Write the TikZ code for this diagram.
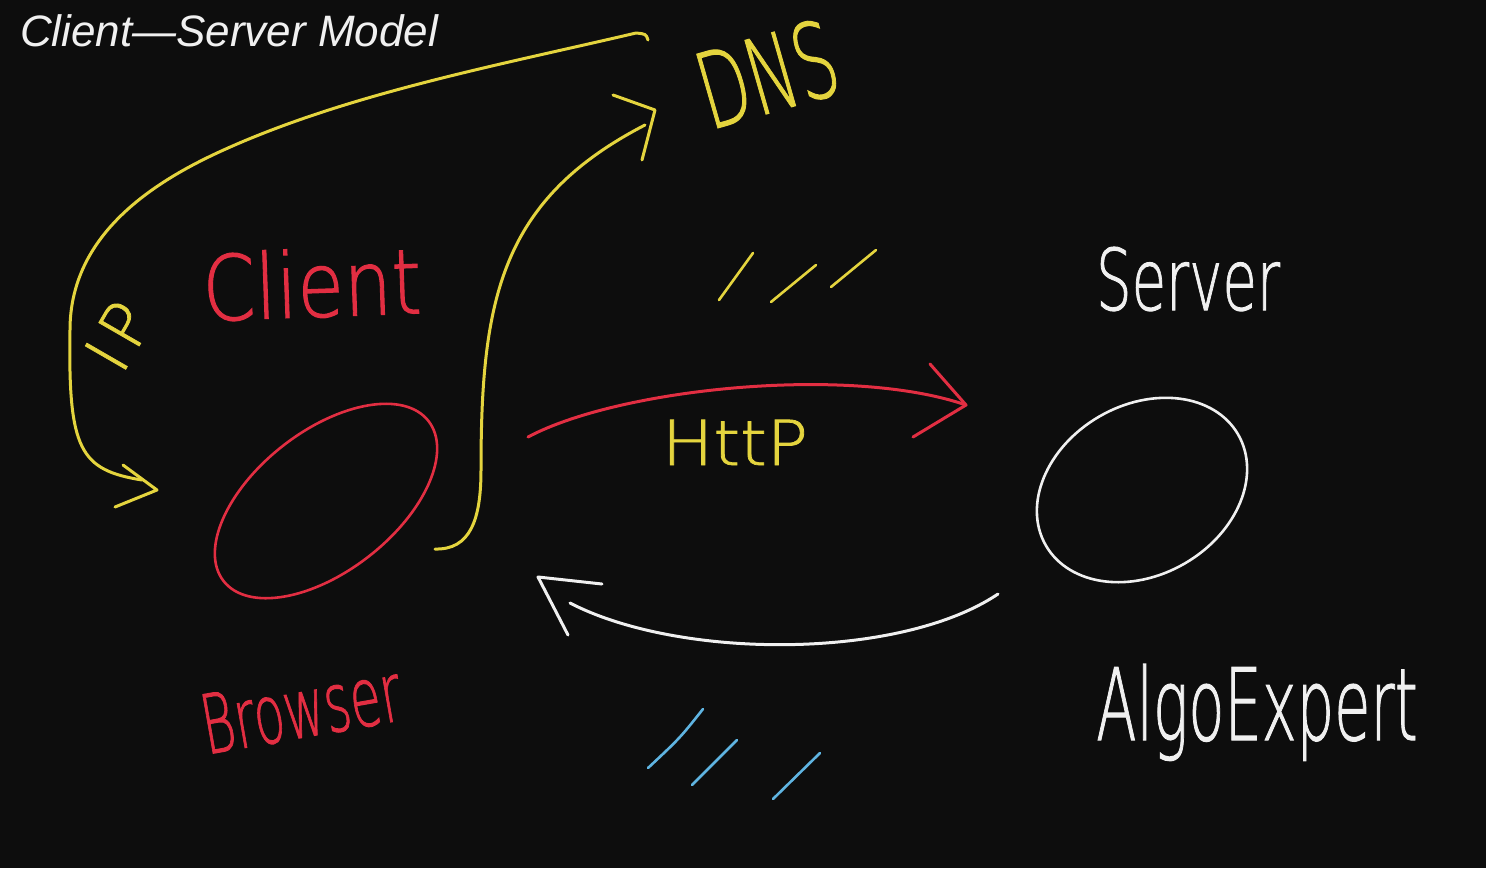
\documentclass[tikz,border=0pt]{standalone}
\usepackage{fontspec}
\usetikzlibrary{shapes.geometric}
\IfFontExistsTF{DejaVuSans-ExtraLight.ttf}
  {\newfontfamily\handfont[FakeBold=1.2]{DejaVuSans-ExtraLight.ttf}}
  {\newfontfamily\handfont{DejaVu Sans}}
\newfontfamily\titlefont{Liberation Sans}
\definecolor{bg}{RGB}{13,13,13}
\definecolor{hyellow}{RGB}{228,212,62}
\definecolor{hred}{RGB}{226,46,66}
\definecolor{hblue}{RGB}{95,180,225}
\definecolor{hwhite}{RGB}{240,240,240}
\begin{document}
\begin{tikzpicture}[x=1pt,y=-1pt,
  pen/.style={line width=3pt,line cap=round,line join=round},
  ypen/.style={pen,draw=hyellow},
  rpen/.style={pen,draw=hred},
  wpen/.style={pen,draw=hwhite},
  bpen/.style={pen,draw=hblue},
  hand/.style={inner sep=0pt,outer sep=0pt},
  blob/.style={draw,ellipse,inner sep=0pt,outer sep=0pt,line width=2.6pt}
]
\path[use as bounding box,fill=bg] (0,0) rectangle (1486,868);

% title
\node[hand,anchor=base west,text=hwhite,font=\titlefont\itshape\fontsize{44}{48}\selectfont] (title) at (20,46) {Client—Server Model};

% client and server blobs
\node[blob,draw=hred,minimum width=260pt,minimum height=140pt,rotate=38] (client) at (326,501) {};
\node[blob,draw=hwhite,minimum width=222pt,minimum height=170pt,rotate=30] (server) at (1142,490) {};

% labels
\node[hand,text=hyellow,font=\handfont\fontsize{105}{110}\selectfont,rotate=16] (dns) at (767,74) {\scalebox{0.62}[1]{DNS}};
\node[hand,anchor=base,text=hred,font=\handfont\fontsize{90}{96}\selectfont,rotate=2] (clientlbl) at (313,317) {\scalebox{0.84}[1]{Client}};
\node[hand,anchor=base,text=hwhite,font=\handfont\fontsize{85}{90}\selectfont] (serverlbl) at (1188,310) {\scalebox{0.66}[1]{Server}};
\node[hand,anchor=base,text=hwhite,font=\handfont\fontsize{100}{105}\selectfont] (algo) at (1257,740) {\scalebox{0.59}[1]{AlgoExpert}};
\node[hand,anchor=base,text=hred,font=\handfont\fontsize{82}{88}\selectfont,rotate=10] (browser) at (306,737) {\scalebox{0.61}[1]{Browser}};
\node[hand,anchor=base,text=hyellow,font=\handfont\fontsize{62}{66}\selectfont] (http) at (735,465) {\scalebox{1.1}[1]{HttP}};
\node[hand,text=hyellow,font=\handfont\fontsize{64}{68}\selectfont,rotate=60] (iplbl) at (118,336) {I\hspace{8pt}P};

% IP arrow (DNS back to client)
\coordinate (ipS) at (648,40);
\coordinate (ipE) at (142,480);
\coordinate (ipT) at (157,490);
\draw[ypen] (ipS) .. controls (646,34) .. (636,33)
  .. controls (500,65) and (344,94) .. (217,153)
  .. controls (144,187) and (70,240) .. (70,330)
  .. controls (68,450) and (80,470) .. (ipE);
\draw[ypen] (ipT) +(-34,-25) -- (ipT) -- +(-42,17);

% client to DNS
\coordinate (dnsS) at (435,549);
\coordinate (dnsE) at (645,125);
\coordinate (dnsT) at (655,110);
\draw[ypen] (dnsS) .. controls (470,550) and (481,520) .. (481,470)
  .. controls (481,300) and (500,200) .. (dnsE);
\draw[ypen] (dnsT) +(-42,-15) -- (dnsT) -- +(-13,50);

% HTTP request
\coordinate (hS) at (528,437);
\coordinate (hE) at (966,405);
\draw[rpen] (hS) .. controls (620,388) and (850,365) .. (hE);
\draw[rpen] (hE) +(-36,-41) -- (hE) -- +(-53,32);

% response
\coordinate (rS) at (998,594);
\coordinate (rE) at (570,603);
\coordinate (rT) at (538,577);
\draw[wpen] (rS) .. controls (900,660) and (680,660) .. (rE);
\draw[wpen] (rT) +(64,7) -- (rT) -- +(30,58);

% hash marks
\draw[ypen,line width=2.6pt] (719,300) -- (753,253);
\draw[ypen,line width=2.6pt] (771,302) -- (816,265);
\draw[ypen,line width=2.6pt] (831,287) -- (876,250);
\draw[bpen,line width=2.6pt] (648,768) .. controls (680,738) .. (703,709);
\draw[bpen,line width=2.6pt] (692,785) -- (737,740);
\draw[bpen,line width=2.6pt] (773,799) -- (820,753);
\end{tikzpicture}
\end{document}
